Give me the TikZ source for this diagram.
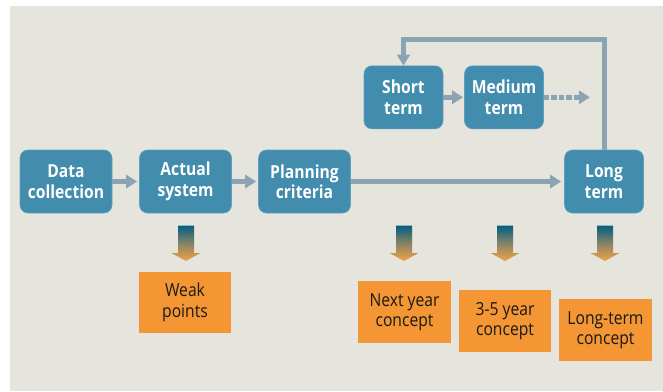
\documentclass[tikz,border=0pt]{standalone}
\usepackage{fontspec}
\setmainfont{Open Sans}
\newfontfamily\boxfont[FakeStretch=0.87]{Open Sans}
\usetikzlibrary{arrows.meta,calc}
\definecolor{bg}{RGB}{229,228,221}
\definecolor{boxblue}{RGB}{66,140,173}
\definecolor{boxedge}{RGB}{96,160,190}
\definecolor{boxorange}{RGB}{243,150,51}
\definecolor{conn}{RGB}{140,164,178}
\definecolor{gtop}{RGB}{0,95,128}
\definecolor{gbot}{RGB}{245,162,70}
\definecolor{txtdark}{RGB}{25,25,25}
\tikzset{
  bluebox/.style={draw=boxedge, line width=0.6pt, fill=boxblue, rounded corners=8pt,
    text=white, align=center, inner sep=0pt,
    font=\boxfont\fontsize{18}{20.5}\selectfont\bfseries},
  orangebox/.style={fill=boxorange, text=txtdark, align=center, inner sep=0pt,
    font=\boxfont\fontsize{18}{20.5}\selectfont},
  connline/.style={draw=conn, line width=5pt,
    -{Triangle[length=11pt,width=13pt]}},
}
\newcommand{\gradarrow}[1]{%
  \shade[top color=gtop, bottom color=gbot, middle color=gtop!45!gbot!85!gray]
    (#1-8,225.5) -- (#1+8,225.5) -- (#1+8,253) -- (#1+14.5,253) -- (#1,261)
    -- (#1-14.5,253) -- (#1-8,253) -- cycle;}
\begin{document}
\begin{tikzpicture}[x=1pt,y=-1pt]
\useasboundingbox (0,0) rectangle (663,391);
\fill[bg] (10,6) rectangle (663,391);

% blue boxes
\node[bluebox, minimum width=92pt, minimum height=63pt] (dc) at (66,181.5) {Data\\collection};
\node[bluebox, minimum width=92pt, minimum height=63pt] (as) at (185.5,181.5) {Actual\\system};
\node[bluebox, minimum width=92pt, minimum height=63pt] (pc) at (304.5,181.5) {Planning\\criteria};
\node[bluebox, minimum width=79pt, minimum height=63pt] (lt) at (604,181.5) {Long\\term};
\node[bluebox, minimum width=79pt, minimum height=63pt] (st) at (403.5,97.3) {Short\\term};
\node[bluebox, minimum width=79pt, minimum height=63pt] (mt) at (504,97.3) {Medium\\term};

% orange boxes
\node[orangebox, minimum width=92pt, minimum height=61pt] (wp) at (185,302.5) {Weak\\points};
\node[orangebox, minimum width=93pt, minimum height=62pt] (ny) at (404.5,312) {Next year\\concept};
\node[orangebox, minimum width=92.5pt, minimum height=62pt] (tf) at (505,321) {3-5 year\\concept};
\node[orangebox, minimum width=93pt, minimum height=62pt] (lc) at (605.5,330) {Long-term\\concept};

% connectors
\coordinate (topline) at (0,39.5);
\coordinate (dashend) at (590,97.3);
\draw[connline, shorten >=2pt] (dc) -- (as);
\draw[connline, shorten >=2pt] (as) -- (pc);
\draw[connline, shorten >=3pt] (pc) -- (lt);
\draw[connline, shorten >=1pt] (st) -- (mt);
\draw[connline, dash pattern=on 5.5pt off 2pt] (mt) -- (dashend);
\draw[connline] (lt.north) -- (lt.north |- topline) -| (st.north);

% gradient arrows
\gradarrow{186}
\gradarrow{404}
\gradarrow{505}
\gradarrow{605}
\end{tikzpicture}
\end{document}
